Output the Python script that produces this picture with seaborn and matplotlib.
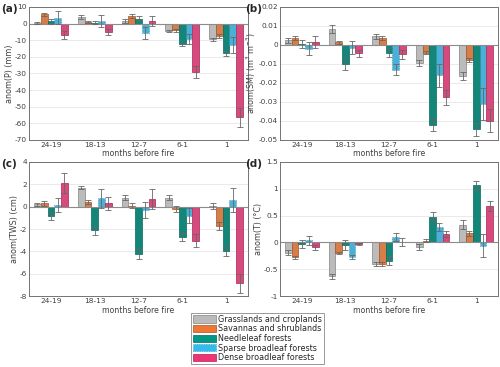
import numpy as np
import pandas as pd
import matplotlib
matplotlib.use('Agg')
import matplotlib.pyplot as plt
import matplotlib.colors as mcolors
from matplotlib.patches import Patch
from matplotlib.ticker import FuncFormatter
import seaborn as sns

groups = ['24-19', '18-13', '12-7', '6-1', '1']
classes = ['Grasslands and croplands', 'Savannas and shrublands', 'Needleleaf forests',
           'Sparse broadleaf forests', 'Dense broadleaf forests']
colors = ['#BBBBBB', '#EE7733', '#009988', '#33BBEE', '#EE3377']

# rows = classes, columns = groups
p_mean = [[0.5, 4.0, 1.5, -4.5, -9.5],
          [5.5, 1.0, 4.5, -4.0, -7.5],
          [1.5, 0.5, 3.0, -12.5, -18.0],
          [3.5, 1.5, -5.5, -9.0, -13.0],
          [-7.0, -5.0, 1.5, -29.0, -56.5]]
p_err = [[0.5, 1.0, 1.0, 0.5, 1.0],
         [1.0, 0.5, 1.0, 1.0, 1.0],
         [1.5, 1.0, 1.5, 1.0, 1.5],
         [4.0, 3.5, 3.5, 3.0, 5.0],
         [2.5, 2.0, 3.0, 3.5, 5.5]]

sm_mean = [[0.0025, 0.0085, 0.0045, -0.0095, -0.0165],
           [0.0035, 0.0015, 0.0035, -0.004, -0.008],
           [0.0005, -0.010, -0.004, -0.042, -0.0445],
           [-0.002, -0.0015, -0.013, -0.016, -0.031],
           [0.0015, -0.0045, -0.005, -0.0275, -0.040]]
sm_err = [[0.0013, 0.002, 0.0013, 0.0015, 0.002],
          [0.001, 0.0008, 0.001, 0.001, 0.001],
          [0.002, 0.003, 0.0025, 0.0035, 0.0035],
          [0.0035, 0.0035, 0.003, 0.006, 0.0085],
          [0.003, 0.002, 0.0025, 0.004, 0.006]]

tws_mean = [[0.2, 1.7, 0.8, 0.8, 0.05],
            [0.3, 0.4, 0.1, -0.2, -1.7],
            [-0.85, -2.1, -4.2, -2.75, -4.0],
            [0.15, 0.75, -0.3, -0.8, 0.6],
            [2.1, 0.3, 0.7, -3.05, -6.85]]
tws_err = [[0.15, 0.15, 0.25, 0.25, 0.3],
           [0.2, 0.2, 0.2, 0.3, 0.35],
           [0.35, 0.4, 0.5, 0.35, 0.4],
           [0.65, 0.85, 0.7, 0.7, 1.1],
           [0.9, 0.6, 0.9, 0.6, 0.85]]

t_mean = [[-0.19, -0.63, -0.40, -0.09, 0.33],
          [-0.28, -0.19, -0.40, 0.03, 0.17],
          [-0.03, -0.05, -0.34, 0.48, 1.06],
          [0.04, -0.27, 0.10, 0.29, -0.06],
          [-0.09, -0.03, 0.01, 0.16, 0.68]]
t_err = [[0.05, 0.05, 0.04, 0.06, 0.08],
         [0.03, 0.02, 0.03, 0.03, 0.05],
         [0.08, 0.09, 0.08, 0.08, 0.08],
         [0.08, 0.04, 0.08, 0.07, 0.22],
         [0.05, 0.02, 0.07, 0.05, 0.10]]

sns.set_style('white')
plt.rcParams['font.family'] = ['DejaVu Sans']
plt.rcParams['axes.unicode_minus'] = False

fig = plt.figure(figsize=(5, 3.67), dpi=100)
boxes = [[0.058, 0.619, 0.438, 0.362],
         [0.560, 0.619, 0.436, 0.362],
         [0.058, 0.193, 0.438, 0.366],
         [0.560, 0.193, 0.436, 0.366]]
panels = [(p_mean, p_err, 'anom(P) (mm)', (-70, 10), np.arange(-70, 11, 10), '(a)'),
          (sm_mean, sm_err, 'anom(SM) (m$^3$ m$^{-3}$)', (-0.05, 0.02), np.arange(-0.05, 0.021, 0.01), '(b)'),
          (tws_mean, tws_err, 'anom(TWS) (cm)', (-8, 4), np.arange(-8, 5, 2), '(c)'),
          (t_mean, t_err, 'anom(T) (°C)', (-1, 1.5), np.arange(-1, 1.6, 0.5), '(d)')]
# tag positions in figure pixels (left edge, top edge)
tag_pos = [(1, 4), (245, 4), (1, 159), (245, 159)]


def fmt(v, pos):
    if abs(v) < 1e-9:
        return '0'
    return '%g' % round(v, 4)


def edge_of(c):
    return np.array(mcolors.to_rgb(c)) * 0.7


for box, (mean, err, ylab, ylim, yticks, tag), tp in zip(boxes, panels, tag_pos):
    ax = fig.add_axes(box)
    rows = []
    for ci, c in enumerate(classes):
        for gi, g in enumerate(groups):
            rows.append({'group': g, 'cls': c, 'value': mean[ci][gi]})
    df = pd.DataFrame(rows)
    ax.grid(True, color='0.9', linewidth=0.6)
    ax.set_axisbelow(True)
    sns.barplot(data=df, x='group', y='value', hue='cls', hue_order=classes, order=groups,
                palette=colors, errorbar=None, width=0.77, legend=False, ax=ax)
    bar_sets = list(ax.containers)
    for ci, cont in enumerate(bar_sets):
        xs = []
        for bar in cont:
            bar.set_edgecolor(edge_of(colors[ci]))
            bar.set_linewidth(0.5)
            if ci == 3:
                bar.set_linestyle((0, (1, 1.5)))
            xs.append(bar.get_x() + bar.get_width() / 2)
        ax.errorbar(xs, mean[ci], yerr=err[ci], fmt='none', ecolor='0.4',
                    elinewidth=0.6, capsize=2, capthick=0.6, zorder=5)
    ax.axhline(0, color='0.55', linewidth=0.8, zorder=1)
    ax.set_xlim(-0.5, 4.5)
    ax.set_ylim(*ylim)
    ax.set_yticks(yticks)
    ax.yaxis.set_major_formatter(FuncFormatter(fmt))
    ax.set_xlabel('months before fire', fontsize=5.6, labelpad=1, color='0.25')
    ax.set_ylabel(ylab, fontsize=5.8, labelpad=0.5, color='0.25')
    ax.tick_params(labelsize=5.3, direction='in', length=2, colors='0.25', pad=1.5)
    for s in ax.spines.values():
        s.set_color('0.45')
        s.set_linewidth(0.7)
    fig.text(tp[0] / 500, 1 - tp[1] / 367, tag, fontsize=7.5, fontweight='bold',
             ha='left', va='top')

handles = []
for ci, c in enumerate(classes):
    handles.append(Patch(facecolor=colors[ci], edgecolor=edge_of(colors[ci]), linewidth=0.5,
                         linestyle=(0, (1, 1.5)) if ci == 3 else '-', label=c))
leg = fig.legend(handles=handles, loc='upper center', bbox_to_anchor=(0.515, 0.147),
                 fontsize=5.8, frameon=True, fancybox=False, handlelength=2.8, handleheight=1.0,
                 handletextpad=0.3, labelspacing=0.08, borderpad=0.2, borderaxespad=0)
leg.get_frame().set_edgecolor('0.5')
leg.get_frame().set_linewidth(0.7)

fig.savefig('out.png', dpi=100)
